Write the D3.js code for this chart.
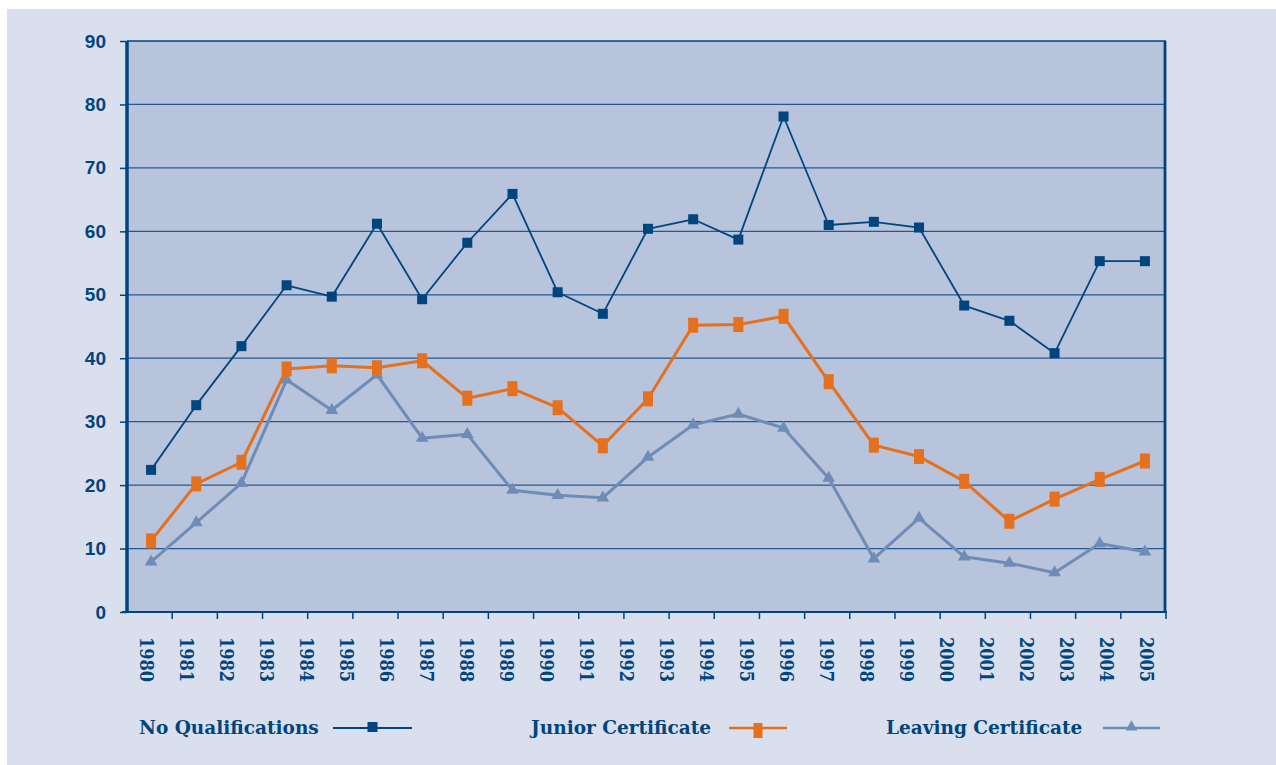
<!DOCTYPE html>
<html>
<head>
<meta charset="utf-8">
<script src="https://cdn.jsdelivr.net/npm/d3@7"></script>
<style>
  html, body { margin: 0; padding: 0; background: #ffffff; }
  svg { display: block; }
</style>
</head>
<body>
<svg id="chart" width="1276" height="765"></svg>
<script>
// Year labels along the bottom axis
const yearLabels = ["1980","1981","1982","1983","1984","1985","1986","1987","1988","1989",
  "1990","1991","1992","1993","1994","1995","1996","1997","1998","1999",
  "2000","2001","2002","2003","2004","2005"];

// Plotted observations (in order)
const noQualifications = [22.4, 32.6, 41.9, 51.5, 49.7, 61.2, 49.3, 58.2, 65.9, 50.4, 47.0, 60.4,
  61.9, 58.7, 78.1, 61.0, 61.5, 60.6, 48.3, 45.9, 40.8, 55.3, 55.3];
const juniorCertificate = [11.2, 20.2, 23.6, 38.3, 38.8, 38.5, 39.6, 33.7, 35.2, 32.2, 26.2, 33.6,
  45.2, 45.3, 46.6, 36.3, 26.3, 24.5, 20.6, 14.3, 17.8, 20.9, 23.8];
const leavingCertificate = [7.9, 14.1, 20.3, 36.6, 31.8, 37.4, 27.4, 28.0, 19.2, 18.4, 18.0, 24.4,
  29.5, 31.2, 29.0, 21.1, 8.4, 14.8, 8.7, 7.7, 6.2, 10.8, 9.5];

const yTicks = [0, 10, 20, 30, 40, 50, 60, 70, 80, 90];

const seriesNames = ["No Qualifications", "Junior Certificate", "Leaving Certificate"];

const NAVY = "#00457e";
const ORANGE = "#e5701d";
const STEEL = "#6f8cb7";

const svg = d3.select("#chart");

// page panel
svg.append("rect").attr("x", 7).attr("y", 9).attr("width", 1269).attr("height", 756)
  .attr("fill", "#d9dfed");

const plot = { left: 127, right: 1166, top: 41, bottom: 612 };

const y = d3.scaleLinear().domain([0, 90]).range([plot.bottom, plot.top]);
const idx = d3.range(noQualifications.length);
const xBand = d3.scaleBand().domain(idx).range([plot.left, plot.right]);
const xPt = i => xBand(i) + xBand.bandwidth() / 2 + 1.5;
const xLabel = d3.scaleBand().domain(yearLabels).range([plot.left, plot.right]);

// plot background
svg.append("rect")
  .attr("x", plot.left).attr("y", plot.top)
  .attr("width", plot.right - plot.left).attr("height", plot.bottom - plot.top)
  .attr("fill", "#b7c4dc");

// horizontal grid lines
svg.append("g").selectAll("line")
  .data(yTicks.filter(d => d > 0 && d < 90))
  .join("line")
  .attr("x1", plot.left).attr("x2", plot.right)
  .attr("y1", d => y(d)).attr("y2", d => y(d))
  .attr("stroke", "#24588f").attr("stroke-width", 1.3);

// y axis
const yAxis = svg.append("g")
  .attr("transform", `translate(${plot.left},0)`)
  .call(d3.axisLeft(y).tickValues(yTicks).tickSize(7).tickPadding(14).tickFormat(d3.format("d")));
yAxis.select(".domain").remove();
yAxis.selectAll(".tick line").attr("stroke", NAVY).attr("stroke-width", 1.5);
yAxis.selectAll(".tick text")
  .attr("fill", NAVY)
  .attr("font-family", "'Liberation Sans', Arial, sans-serif")
  .attr("font-weight", "bold")
  .attr("font-size", 19);

// x axis ticks at band boundaries
const boundaries = idx.map(i => xBand(i) + xBand.bandwidth());
svg.append("g").selectAll("line")
  .data(boundaries)
  .join("line")
  .attr("x1", d => d).attr("x2", d => d)
  .attr("y1", plot.bottom).attr("y2", plot.bottom + 7)
  .attr("stroke", NAVY).attr("stroke-width", 1.5);

// frame
svg.append("line").attr("x1", plot.left).attr("x2", plot.right)
  .attr("y1", plot.top).attr("y2", plot.top).attr("stroke", NAVY).attr("stroke-width", 1.6);
svg.append("line").attr("x1", plot.left - 5).attr("x2", plot.right + 1)
  .attr("y1", plot.bottom).attr("y2", plot.bottom).attr("stroke", NAVY).attr("stroke-width", 2.2);
svg.append("line").attr("x1", plot.left).attr("x2", plot.left)
  .attr("y1", plot.top).attr("y2", plot.bottom + 1).attr("stroke", NAVY).attr("stroke-width", 3.5);
svg.append("line").attr("x1", plot.right - 1).attr("x2", plot.right - 1)
  .attr("y1", plot.top).attr("y2", plot.bottom + 1).attr("stroke", NAVY).attr("stroke-width", 2.8);

// year labels, rotated to read downward
svg.append("g").selectAll("text")
  .data(yearLabels)
  .join("text")
  .attr("transform", d => `translate(${xLabel(d) + xLabel.bandwidth() / 2},637) rotate(90)`)
  .attr("dy", "0.36em")
  .attr("fill", NAVY)
  .attr("font-family", "'DejaVu Serif', serif")
  .attr("font-stretch", "condensed")
  .attr("font-weight", "bold")
  .attr("font-size", 18)
  .text(d => d);

// series
const line = d3.line().x((d, i) => xPt(i)).y(d => y(d));

function squareMarkers(g, data, w, h, color) {
  g.selectAll("rect.m").data(data).join("rect").attr("class", "m")
    .attr("x", (d, i) => xPt(i) - w / 2).attr("y", d => y(d) - h / 2)
    .attr("width", w).attr("height", h).attr("fill", color);
}
const tri = d3.symbol().type(d3.symbolTriangle).size(70);

// Leaving Certificate
const gL = svg.append("g");
gL.append("path").datum(leavingCertificate).attr("d", line)
  .attr("fill", "none").attr("stroke", STEEL).attr("stroke-width", 3).attr("stroke-linejoin", "round");
gL.selectAll("path.m").data(leavingCertificate).join("path").attr("class", "m")
  .attr("transform", (d, i) => `translate(${xPt(i)},${y(d)})`)
  .attr("d", tri).attr("fill", STEEL);

// Junior Certificate
const gJ = svg.append("g");
gJ.append("path").datum(juniorCertificate).attr("d", line)
  .attr("fill", "none").attr("stroke", ORANGE).attr("stroke-width", 3).attr("stroke-linejoin", "round");
squareMarkers(gJ, juniorCertificate, 10, 15, ORANGE);

// No Qualifications
const gN = svg.append("g");
gN.append("path").datum(noQualifications).attr("d", line)
  .attr("fill", "none").attr("stroke", NAVY).attr("stroke-width", 1.8).attr("stroke-linejoin", "round");
squareMarkers(gN, noQualifications, 10, 10, NAVY);

// legend
const legend = [
  { name: seriesNames[0], tx: 139, l1: 333, l2: 412, color: NAVY, sw: 1.8, kind: "sq" },
  { name: seriesNames[1], tx: 531, l1: 729, l2: 787, color: ORANGE, sw: 2.5, kind: "rect" },
  { name: seriesNames[2], tx: 886, l1: 1103, l2: 1160, color: STEEL, sw: 2.5, kind: "tri" }
];
const ly = 728;
const lg = svg.append("g");
legend.forEach(d => {
  lg.append("text").attr("x", d.tx).attr("y", ly + 6)
    .attr("fill", NAVY)
    .attr("font-family", "'DejaVu Serif', serif")
    .attr("font-weight", "bold")
    .attr("font-size", 18.5)
    .text(d.name);
  lg.append("line").attr("x1", d.l1).attr("x2", d.l2).attr("y1", ly).attr("y2", ly)
    .attr("stroke", d.color).attr("stroke-width", d.sw);
  const cx = (d.l1 + d.l2) / 2;
  if (d.kind === "sq") {
    lg.append("rect").attr("x", cx - 5).attr("y", ly - 6).attr("width", 10).attr("height", 10).attr("fill", d.color);
  } else if (d.kind === "rect") {
    lg.append("rect").attr("x", cx - 4.5).attr("y", ly - 5).attr("width", 9).attr("height", 15).attr("fill", d.color);
  } else {
    lg.append("path").attr("transform", `translate(${cx},${ly - 1})`)
      .attr("d", d3.symbol().type(d3.symbolTriangle).size(60)).attr("fill", d.color);
  }
});
</script>
</body>
</html>
